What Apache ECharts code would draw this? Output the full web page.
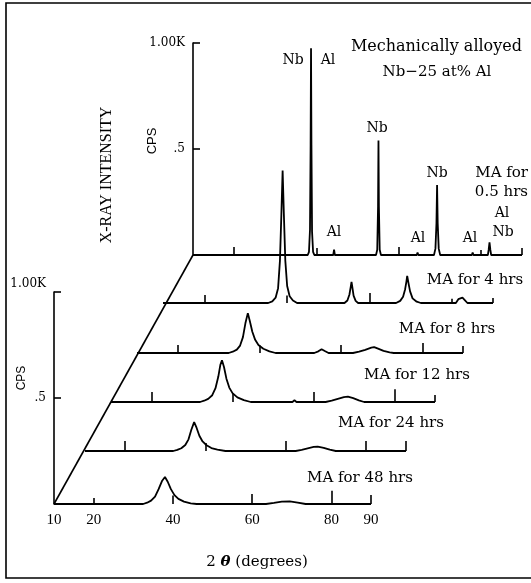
<!DOCTYPE html>
<html><head><meta charset="utf-8">
<script src="https://cdn.jsdelivr.net/npm/echarts@6/dist/echarts.min.js"></script>
<style>html,body{margin:0;padding:0;background:#fff}#c{width:531px;height:583px}</style>
</head><body><div id="c"></div>
<script>
// ---------------- data ----------------
const traceNames = ['MA for 48 hrs', 'MA for 24 hrs', 'MA for 12 hrs', 'MA for 8 hrs', 'MA for 4 hrs', 'MA for 0.5 hrs'];
const xTickLabels = [10, 20, 40, 60, 80, 90];
const cpsTickLabels = { 500: '.5', 1000: '1.00K' };
const markerAngles = [20, 40, 60, 80, 90];

// marker tick heights (CPS) per trace, order = markerAngles
const markers48h = [28, 40, 47, 62, 42];
const markers24h = [47, 38, 47, 47, 47];
const markers12h = [47, 38, 47, 60, 33];
const markers8h = [38, 35, 38, 47, 33];
const markers4h = [38, 35, 47, 20, 24];
const markers05h = [38, 33, 38, 24, 33];

// [2theta (deg), intensity (CPS)]
const trace48h = [[10,0],[32.5,0],[33.5,6],[34.5,16],[35.5,35],[36.4,70],[37.3,110],[38.0,127],[38.7,105],[39.5,70],[40.4,42],[41.4,24],[42.8,11],[44.5,3],[46.0,0],
  [63.5,0],[65.5,5],[67.5,11],[69.5,12],[71.5,6],[73.5,0],[90,0]];
const trace24h = [[10,0],[32.0,0],[33.0,5],[34.0,13],[35.0,28],[35.8,55],[36.5,100],[37.2,136],[37.8,110],[38.5,72],[39.3,45],[40.3,27],[41.5,14],[43.0,6],[45.0,0],
  [62.5,0],[64.0,5],[65.5,12],[67.0,19],[68.0,21],[69.5,15],[71.0,6],[72.5,0],[90,0]];
const trace12h = [[10,0],[32.0,0],[33.0,6],[34.0,15],[35.0,32],[35.8,65],[36.5,120],[37.0,175],[37.4,197],[37.9,165],[38.5,110],[39.2,68],[40.0,42],[41.2,22],[42.8,9],[44.5,0],
  [54.8,0],[55.3,8],[55.8,0],
  [63.0,0],[64.5,6],[66.0,15],[67.5,23],[68.5,25],[69.8,18],[71.2,8],[72.5,0],[90,0]];
const trace8h = [[10,0],[32.5,0],[33.5,6],[34.5,16],[35.3,35],[36.0,75],[36.6,140],[37.2,188],[37.7,150],[38.3,100],[39.0,62],[39.8,38],[41.0,20],[42.5,8],[44.0,0],
  [53.5,0],[54.5,8],[55.3,18],[56.2,8],[57.0,0],
  [63.0,0],[64.5,6],[66.0,15],[67.5,25],[68.2,28],[69.0,22],[70.5,10],[72.0,3],[73.0,0],[90,0]];
const trace4h = [[10,0],[35.5,0],[36.5,8],[37.3,25],[37.9,70],[38.35,200],[38.7,420],[39.0,625],[39.3,420],[39.65,200],[40.1,80],[40.7,32],[41.5,12],[42.5,0],
  [54.0,0],[54.7,12],[55.2,40],[55.5,75],[55.7,100],[55.9,75],[56.2,35],[56.7,10],[57.3,0],
  [66.5,0],[67.5,10],[68.2,30],[68.7,65],[69.0,100],[69.2,128],[69.5,95],[69.9,55],[70.5,22],[71.5,6],[72.5,0],
  [81.0,0],[81.6,18],[82.0,12],[82.6,25],[83.1,15],[83.8,0],[90,0]];
const trace05h = [[10,0],[37.9,0],[38.2,15],[38.45,120],[38.6,520],[38.7,975],[38.8,520],[38.95,110],[39.2,15],[39.5,0],
  [44.1,0],[44.3,25],[44.5,0],
  [54.5,0],[54.8,25],[55.0,230],[55.1,540],[55.2,230],[55.4,25],[55.7,0],
  [64.4,0],[64.6,12],[64.8,0],
  [68.6,0],[68.95,30],[69.2,150],[69.35,330],[69.5,150],[69.75,30],[70.1,0],
  [77.8,0],[78.0,12],[78.2,0],
  [81.7,0],[81.9,25],[82.1,60],[82.3,25],[82.5,0],[90,0]];

const traces = [trace48h, trace24h, trace12h, trace8h, trace4h, trace05h];
const markers = [markers48h, markers24h, markers12h, markers8h, markers4h, markers05h];

// ---------------- layout (pixels) ----------------
const L = {
  x10: [54, 85, 111, 137, 163, 193],
  x90: [371, 406, 435, 463, 493, 522],
  base: [504, 451, 402, 353, 303, 255],
  h: 212
};
const SERIF = '"DejaVu Serif", serif';
const TIMES = '"Liberation Serif", serif';
const SANS = '"Liberation Sans", sans-serif';

const grids = [], xAxes = [], yAxes = [], series = [];
for (let i = 0; i < traces.length; i++) {
  grids.push({ left: L.x10[i], top: L.base[i] - L.h, width: L.x90[i] - L.x10[i], height: L.h, outerBoundsMode: 'none', containLabel: false });
  xAxes.push({
    gridIndex: i, type: 'value', min: 10, max: 90, interval: 10, show: i === 0,
    axisLine: { show: false }, axisTick: { show: false }, splitLine: { show: false },
    axisLabel: {
      show: i === 0, margin: 9, color: '#000', fontFamily: TIMES, fontSize: 15,
      formatter: v => xTickLabels.indexOf(v) >= 0 ? String(v) : ''
    }
  });
  const visY = (i === 0 || i === traces.length - 1);
  yAxes.push({
    gridIndex: i, type: 'value', min: 0, max: 1000, interval: 500, show: visY,
    axisLine: { show: true, lineStyle: { color: '#000', width: 1.6 } },
    axisTick: { show: true, inside: true, length: 7, lineStyle: { color: '#000', width: 1.6 } },
    splitLine: { show: false },
    axisLabel: {
      show: true, margin: 8, color: '#000', fontFamily: SERIF, fontSize: 12,
      formatter: v => {
        const t = cpsTickLabels[v] || '';
        if (!t) return '';
        return (i === 0 && v === 1000) ? '{up|' + t + '}' : t;
      },
      rich: { up: { fontFamily: SERIF, fontSize: 12, color: '#000', padding: [0, 0, 16, 0] } }
    }
  });
  series.push({
    type: 'line', xAxisIndex: i, yAxisIndex: i, data: traces[i], name: traceNames[i],
    showSymbol: false, symbol: 'none', smooth: false, silent: true,
    lineStyle: { color: '#000', width: 1.8 },
    markLine: {
      silent: true, symbol: ['none', 'none'], label: { show: false },
      lineStyle: { color: '#000', width: 1.6, type: 'solid' },
      emphasis: { disabled: true },
      data: markerAngles.map((a, j) => [{ coord: [a, 0] }, { coord: [a, markers[i][j]] }])
    }
  });
}

function txt(text, x, y, opts) {
  opts = opts || {};
  return {
    type: 'text', x: x, y: y, rotation: opts.rot || 0, silent: true,
    style: {
      text: text, fill: '#000', font: (opts.size || 14) + 'px ' + (opts.family || SERIF),
      align: opts.align || 'center', verticalAlign: 'middle', lineHeight: opts.lh || undefined,
      rich: opts.rich
    }
  };
}

const graphics = [
  { type: 'rect', silent: true, shape: { x: 6, y: 3, width: 540, height: 575 }, style: { fill: 'none', stroke: '#000', lineWidth: 1.6 } },
  { type: 'line', silent: true, shape: { x1: L.x10[0], y1: L.base[0], x2: L.x10[5], y2: L.base[5] }, style: { stroke: '#000', lineWidth: 1.6 } },
  txt('Mechanically alloyed', 522, 47, { size: 16, align: 'right' }),
  txt('Nb\u221225 at% Al', 437, 72, { size: 15 }),
  txt('Nb', 293, 60), txt('Al', 328, 60),
  txt('Al', 334, 232),
  txt('Nb', 377, 128),
  txt('Al', 418, 238),
  txt('Nb', 437, 173),
  txt('Al', 470, 238),
  txt('Al', 502, 213), txt('Nb', 503, 232),
  txt(traceNames[5].replace(' 0.5', '\n0.5'), 528, 183, { size: 15, align: 'right', lh: 19 }),
  txt(traceNames[4], 475, 280, { size: 15 }),
  txt(traceNames[3], 447, 329, { size: 15 }),
  txt(traceNames[2], 417, 375, { size: 15 }),
  txt(traceNames[1], 391, 423, { size: 15 }),
  txt(traceNames[0], 360, 478, { size: 15 }),
  {
    type: 'text', x: 257, y: 562, silent: true,
    style: {
      text: '{n|2 }{t|\u03b8}{n| (degrees)}', align: 'center', verticalAlign: 'middle',
      rich: {
        n: { font: '15px ' + SERIF, fill: '#000' },
        t: { font: 'italic bold 15px ' + SERIF, fill: '#000' }
      }
    }
  },
  txt('X-RAY INTENSITY', 107, 175, { size: 16, family: TIMES, rot: Math.PI / 2 }),
  txt('CPS', 152, 141, { size: 13, family: SANS, rot: Math.PI / 2 }),
  txt('CPS', 22, 378, { size: 12, family: SANS, rot: Math.PI / 2 })
];

const chart = echarts.init(document.getElementById('c'), null, { renderer: 'canvas' });
chart.setOption({
  animation: false,
  backgroundColor: '#fff',
  grid: grids, xAxis: xAxes, yAxis: yAxes, series: series,
  graphic: graphics
});
</script>
</body></html>
